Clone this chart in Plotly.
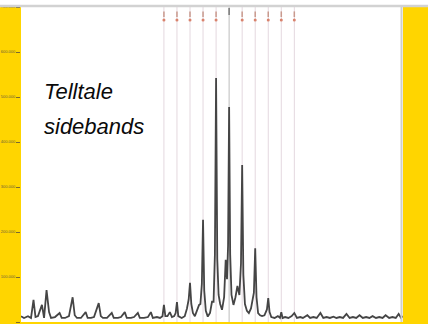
import plotly.graph_objects as go

# ---- data ----
# spectrum vertices: frequency (arbitrary units) and amplitude
spec_x = [0, 2.3, 5.3, 7.6, 9.5, 11.0, 12.9, 15.9, 17.5, 19.4, 21.3, 22.8, 25.8, 29.3, 30.9, 33.4, 36.4,
          39.2, 40.8, 42.5, 45.5, 49.1, 50.6, 53.1, 55.4, 59.0, 60.6, 62.2, 65.3, 68.9, 70.4, 73.6,
          75.9, 78.8, 80.3, 83.5, 85.8, 88.7, 90.2, 93.4, 96.4, 98.6, 100.1, 103.2, 105.5, 107.4,
          108.5, 109.6, 111.2, 113.0, 114.6, 116.3, 117.4, 118.4, 119.4, 122.0, 124.3, 126.0, 127.3,
          128.3, 129.3, 130.5, 132.0, 134.0, 135.2, 136.2, 137.3, 138.2, 139.1, 140.3, 141.8, 143.5,
          145.0, 146.2, 147.2, 148.1, 149.0, 150.0, 151.2, 152.6, 154.2, 155.4, 156.4, 157.2, 158.0,
          158.8, 159.8, 161.3, 162.8, 164.3, 165.8, 167.0, 167.9, 168.8, 170.0, 171.5, 173.0, 174.6,
          175.6, 176.8, 177.8, 178.8, 180.0, 181.5, 183.0, 184.8, 186.7, 187.7, 188.7, 190.0, 192.5,
          195.0, 196.6, 197.6, 198.6, 200.5, 203.0, 205.5, 207.5, 209.5, 212.0, 214.0, 217.4, 219.5,
          222.0, 224.5, 227.3, 229.5, 232.0, 234.5, 237.2, 239.5, 242.0, 244.5, 247.1, 249.5, 252.0,
          254.5, 257.0, 259.5, 262.0, 264.5, 266.9, 269.5, 272.0, 274.5, 276.8, 279.5, 282.0, 284.5,
          286.7, 288.5, 290.0]
spec_y = [0.13, 0.09, 0.13, 0.09, 0.49, 0.11, 0.13, 0.38, 0.09, 0.71, 0.22, 0.09, 0.11, 0.20, 0.09,
          0.09, 0.13, 0.55, 0.15, 0.09, 0.09, 0.22, 0.09, 0.09, 0.11, 0.42, 0.13, 0.09, 0.09, 0.20,
          0.09, 0.09, 0.11, 0.22, 0.09, 0.09, 0.11, 0.20, 0.09, 0.09, 0.11, 0.22, 0.09, 0.11, 0.09,
          0.13, 0.38, 0.13, 0.13, 0.22, 0.11, 0.13, 0.20, 0.44, 0.13, 0.09, 0.13, 0.30, 0.50,
          0.87, 0.40, 0.20, 0.13, 0.30, 0.38, 0.40, 0.85, 2.27, 0.70, 0.25, 0.12, 0.20, 0.45,
          0.45, 1.50, 5.42, 1.40, 0.60, 0.40, 0.27, 0.55, 1.38, 0.95, 1.70, 4.78, 1.50, 0.60,
          0.38, 0.55, 0.80, 0.60, 1.30, 3.49, 1.05, 0.40, 0.25, 0.20, 0.30, 0.45, 0.65, 1.64,
          0.55, 0.20, 0.15, 0.13, 0.15, 0.28, 0.53, 0.22, 0.11, 0.09, 0.13, 0.09, 0.22, 0.09, 0.11,
          0.09, 0.13, 0.20, 0.09, 0.11, 0.09, 0.15, 0.09, 0.11, 0.09, 0.20, 0.09, 0.11, 0.09, 0.12,
          0.09, 0.11, 0.09, 0.18, 0.09, 0.11, 0.09, 0.15, 0.09, 0.11, 0.09, 0.13, 0.09, 0.11,
          0.09, 0.15, 0.09, 0.11, 0.09, 0.18, 0.09, 0.13, 0.13]

# sideband marker frequencies (carrier is the middle one)
sideband_x = [108.5, 118.4, 128.3, 138.2, 148.1, 167.9, 177.8, 187.7, 197.6, 207.5]
carrier_x = [158.0]

y_tick_vals = [0, 1, 2, 3, 4, 5, 6, 7]
y_tick_text = ["0.00", "100.000", "200.000", "300.000", "400.000", "500.000", "600.000", "700.000"]

label_lines = ["Telltale", "sidebands"]

YMAX = 7.0
marker_hi = [6.84] * len(sideband_x)
marker_lo = [6.71] * len(sideband_x)


def vlines(xs):
    vx, vy = [], []
    for xv in xs:
        vx += [xv, xv, None]
        vy += [0, YMAX, None]
    return vx, vy


fig = go.Figure()

sx, sy = vlines(sideband_x)
fig.add_trace(go.Scatter(x=sx, y=sy, mode="lines", line=dict(color="#e4d8df", width=1),
                         hoverinfo="skip", connectgaps=False))
cx, cy = vlines(carrier_x)
fig.add_trace(go.Scatter(x=cx, y=cy, mode="lines", line=dict(color="#bcbcbc", width=1),
                         hoverinfo="skip", connectgaps=False))

fig.add_trace(go.Scatter(x=spec_x, y=spec_y, mode="lines",
                         line=dict(color="#454545", width=1.8), hoverinfo="skip"))

fig.add_trace(go.Scatter(x=sideband_x, y=marker_hi, mode="markers",
                         marker=dict(symbol="line-ns", size=4, line=dict(color="#c99a8e", width=1.5)),
                         hoverinfo="skip"))
fig.add_trace(go.Scatter(x=sideband_x, y=marker_lo, mode="markers",
                         marker=dict(symbol="circle", size=3, color="#d9826c"),
                         hoverinfo="skip"))
fig.add_trace(go.Scatter(x=carrier_x, y=[6.9], mode="markers",
                         marker=dict(symbol="line-ns", size=5, line=dict(color="#777777", width=1.5)),
                         hoverinfo="skip"))

W, H = 428, 324
ML, MR, MT, MB = 21, 25, 7, 2
PW = W - ML - MR
PH = H - MT - MB

shapes = [
    # white strip at very top
    dict(type="rect", xref="paper", yref="paper", x0=-ML / PW, x1=1 + MR / PW,
         y0=1 + 1.5 / PH, y1=1 + MT / PH + 0.01, fillcolor="white", line=dict(width=0), layer="above"),
    # gray top rule
    dict(type="line", xref="paper", yref="paper", x0=-ML / PW, x1=1 + MR / PW,
         y0=1 + 1.0 / PH, y1=1 + 1.0 / PH, line=dict(color="#d2d2d2", width=2.5), layer="above"),
    # gray right border
    dict(type="line", xref="paper", yref="paper", x0=1 - 1.5 / PW, x1=1 - 1.5 / PW,
         y0=0, y1=1, line=dict(color="#cfcfcf", width=2), layer="above"),
]

annotations = [
    dict(text=label_lines[0], xref="paper", yref="paper", x=(42 - ML) / PW, y=(322 - 91) / PH,
         xanchor="left", yanchor="middle", showarrow=False,
         font=dict(family="Liberation Sans", size=22, color="#0a0a0a", style="italic")),
    dict(text=label_lines[1], xref="paper", yref="paper", x=(42 - ML) / PW, y=(322 - 126) / PH,
         xanchor="left", yanchor="middle", showarrow=False,
         font=dict(family="Liberation Sans", size=22, color="#0a0a0a", style="italic")),
]

fig.update_layout(
    width=W, height=H,
    margin=dict(l=ML, r=MR, t=MT, b=MB, pad=0),
    paper_bgcolor="#FFD500",
    plot_bgcolor="white",
    showlegend=False,
    shapes=shapes,
    annotations=annotations,
    xaxis=dict(range=[0, 290], showgrid=False, zeroline=False, showticklabels=False,
               ticks="", showline=False, fixedrange=True),
    yaxis=dict(range=[0, YMAX], showgrid=False, zeroline=False, tickvals=y_tick_vals,
               ticktext=y_tick_text, ticks="outside", ticklen=4, tickcolor="#7a6a30",
               tickfont=dict(size=4, color="#6b6040", family="Liberation Sans"),
               showline=False, fixedrange=True),
)

fig.write_html("out.html",
               config={"displayModeBar": False, "staticPlot": True},
               post_script="document.body.style.margin='0';document.body.style.padding='0';"
                           "document.documentElement.style.margin='0';document.body.style.overflow='hidden';")
